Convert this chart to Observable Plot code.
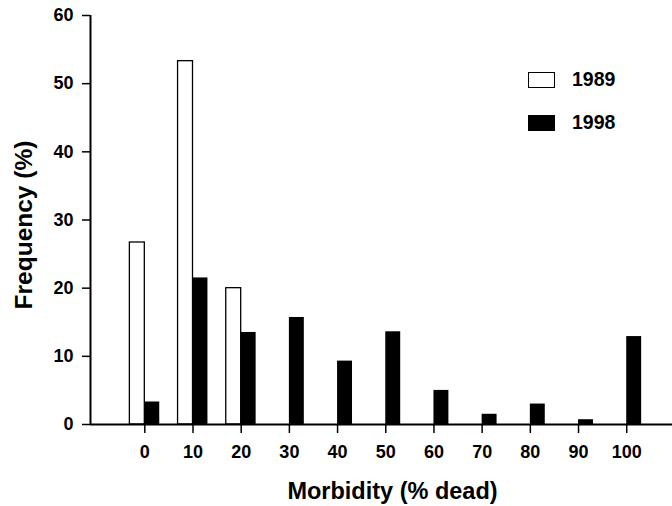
<!DOCTYPE html>
<html>
<head>
<meta charset="utf-8">
<script src="https://cdn.jsdelivr.net/npm/d3@7"></script>
<script src="https://cdn.jsdelivr.net/npm/@observablehq/plot@0.6"></script>
<style>
  body { margin: 0; background: #fff; }
  #wrap { position: relative; width: 672px; height: 506px; font-family: "Liberation Sans", Arial, sans-serif; font-weight: bold; }
  .leg { position: absolute; display: flex; align-items: center; font-size: 19.5px; }
  .sw { width: 25px; height: 14px; border: 1.3px solid #000; box-sizing: content-box; margin-right: 17px; }
</style>
</head>
<body>
<div id="wrap"></div>
<script>
const categories = [0, 10, 20, 30, 40, 50, 60, 70, 80, 90, 100];
const values1989 = [26.7, 53.3, 20.0, 0, 0, 0, 0, 0, 0, 0, 0];
const values1998 = [3.3, 21.5, 13.5, 15.7, 9.3, 13.6, 5.0, 1.5, 3.0, 0.7, 12.9];
const yTicks = [0, 10, 20, 30, 40, 50, 60];
const seriesNames = ["1989", "1998"];
const xDomain = [-11.27, 109.5];
const halfWidth = 3.1;

const d89 = categories.map((c, i) => ({cat: c, value: values1989[i]})).filter(d => d.value > 0);
const d98 = categories.map((c, i) => ({cat: c, value: values1998[i]}));

const chart = Plot.plot({
  width: 672,
  height: 506,
  marginLeft: 90,
  marginRight: 0,
  marginTop: 15,
  marginBottom: 82,
  style: {fontFamily: "'Liberation Sans', Arial, sans-serif", fontWeight: "bold", fontSize: "18px", color: "#000", background: "#fff"},
  x: {type: "linear", domain: xDomain, axis: null},
  y: {domain: [0, 60], axis: null},
  marks: [
    Plot.rectY(d89, {x1: d => d.cat - halfWidth, x2: d => d.cat, y1: 0, y2: "value", fill: "white", stroke: "black", strokeWidth: 1.3}),
    Plot.rectY(d98, {x1: d => d.cat, x2: d => d.cat + halfWidth, y1: 0, y2: "value", fill: "black"}),
    Plot.axisY({ticks: yTicks, tickSize: 8, tickPadding: 9, strokeWidth: 1.5, label: null, fontSize: 18, fontWeight: "bold"}),
    Plot.axisX({ticks: categories, tickSize: 9, tickPadding: 12, strokeWidth: 1.5, label: null, tickFormat: d => String(d), fontSize: 18, fontWeight: "bold"}),
    Plot.ruleY([0], {stroke: "black", strokeWidth: 2}),
    Plot.ruleX([xDomain[0]], {stroke: "black", strokeWidth: 2}),
    Plot.text(["Frequency (%)"], {frameAnchor: "left", textAnchor: "middle", lineAnchor: "middle", rotate: -90, dx: -66, dy: 5, fontSize: 24.5, fontWeight: "bold", fill: "black"}),
    Plot.text(["Morbidity (% dead)"], {frameAnchor: "bottom", textAnchor: "middle", dy: 74, dx: 11, fontSize: 23.5, fontWeight: "bold", fill: "black"})
  ]
});

const wrap = document.getElementById("wrap");
wrap.appendChild(chart);

const legendPos = [{left: 528, top: 68}, {left: 528, top: 111}];
const legendFill = ["#fff", "#000"];
seriesNames.forEach((name, i) => {
  const row = document.createElement("div");
  row.className = "leg";
  row.style.left = legendPos[i].left + "px";
  row.style.top = legendPos[i].top + "px";
  const sw = document.createElement("span");
  sw.className = "sw";
  sw.style.background = legendFill[i];
  const t = document.createElement("span");
  t.textContent = name;
  row.appendChild(sw);
  row.appendChild(t);
  wrap.appendChild(row);
});
</script>
</body>
</html>
